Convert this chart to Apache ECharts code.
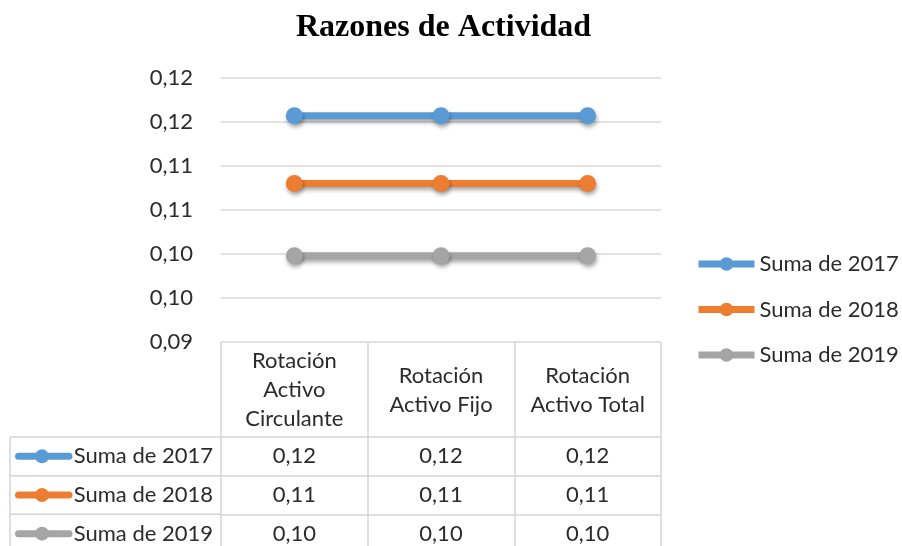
<!DOCTYPE html>
<html>
<head>
<meta charset="utf-8">
<script src="https://cdn.jsdelivr.net/npm/echarts@6/dist/echarts.min.js"></script>
<style>
  html, body { margin: 0; padding: 0; background: #ffffff; }
  #chart { width: 902px; height: 546px; }
</style>
</head>
<body>
<div id="chart"></div>
<script>
// Activity ratios per year
const categories = ['Rotación Activo Circulante', 'Rotación Activo Fijo', 'Rotación Activo Total'];
const headerLines = ['Rotación\nActivo\nCirculante', 'Rotación\nActivo Fijo', 'Rotación\nActivo Total'];
const seriesNames = ['Suma de 2017', 'Suma de 2018', 'Suma de 2019'];
const values2017 = [0.1157, 0.1157, 0.1157];
const values2018 = [0.1080, 0.1080, 0.1080];
const values2019 = [0.0998, 0.0998, 0.0998];
const yTickLabels = ['0,09', '0,10', '0,10', '0,11', '0,11', '0,12', '0,12'];
const colors = ['#5B9BD5', '#ED7D31', '#A5A5A5'];

const seriesValues = [values2017, values2018, values2019];
const Y_MIN = 0.09, Y_MAX = 0.12, Y_STEP = 0.005;
const FONT = 'Lato';
const TEXT = '#2b2b2b';
const GRID_LINE = '#d9d9d9';
const TABLE_LINE = '#d4d4d4';

const fmt = v => v.toFixed(2).replace('.', ',');

const chart = echarts.init(document.getElementById('chart'));

// one cell per (category, series) for the data table
const cellData = [];
seriesValues.forEach((vals, r) => vals.forEach((v, c) => cellData.push([c, r, v])));

const lineSeries = seriesNames.map((name, i) => ({
  name: name,
  type: 'line',
  xAxisIndex: 0,
  yAxisIndex: 0,
  data: seriesValues[i],
  symbol: 'circle',
  symbolSize: 17,
  z: 10 - i,
  lineStyle: {
    width: 7, color: colors[i],
    shadowColor: 'rgba(0,0,0,0.35)', shadowBlur: 4, shadowOffsetX: 1, shadowOffsetY: 3
  },
  itemStyle: {
    color: colors[i],
    shadowColor: 'rgba(0,0,0,0.35)', shadowBlur: 4, shadowOffsetX: 1, shadowOffsetY: 3
  }
}));

const option = {
  animation: false,
  color: colors,
  title: {
    text: 'Razones de Actividad',
    left: 296,
    top: 12,
    padding: 0,
    textStyle: { fontFamily: 'Liberation Serif', fontWeight: 'bold', fontSize: 32, color: '#000000' }
  },
  legend: {
    data: seriesNames,
    orient: 'vertical',
    left: 695,
    top: 253,
    padding: 0,
    itemWidth: 56,
    itemHeight: 17,
    itemGap: 23.5,
    lineStyle: { width: 7 },
    textStyle: { fontFamily: FONT, fontSize: 22, color: TEXT }
  },
  grid: [
    { left: 221, top: 78, width: 440, height: 264, outerBoundsMode: 'none' },   // plot area
    { left: 221, top: 342, width: 440, height: 211, outerBoundsMode: 'none' },  // table columns
    { left: 221, top: 437, width: 440, height: 116, outerBoundsMode: 'none' }   // table rows
  ],
  xAxis: [
    {
      type: 'category', gridIndex: 0, data: categories,
      axisLine: { show: false }, axisTick: { show: false },
      axisLabel: {
        interval: 0,
        formatter: (v, i) => headerLines[i],
        verticalAlign: 'middle', margin: 48,
        fontFamily: FONT, fontSize: 22, lineHeight: 29, color: TEXT
      }
    },
    {
      type: 'category', gridIndex: 1, data: categories,
      axisLine: { show: false }, axisTick: { show: false }, axisLabel: { show: false },
      splitLine: { show: true, interval: 0, lineStyle: { color: TABLE_LINE, width: 1.5 } }
    },
    {
      type: 'category', gridIndex: 2, data: categories,
      axisLine: { show: false }, axisTick: { show: false }, axisLabel: { show: false },
      splitLine: { show: false }
    }
  ],
  yAxis: [
    {
      type: 'value', gridIndex: 0, min: Y_MIN, max: Y_MAX, interval: Y_STEP,
      axisLine: { show: false }, axisTick: { show: false },
      axisLabel: {
        formatter: v => yTickLabels[Math.round((v - Y_MIN) / Y_STEP)],
        margin: 28, fontFamily: FONT, fontSize: 22, color: TEXT
      },
      splitLine: { lineStyle: { color: GRID_LINE, width: 1.5 } }
    },
    {
      type: 'value', gridIndex: 1, min: 0, max: 1, show: false
    },
    {
      type: 'category', gridIndex: 2, data: seriesNames, inverse: true,
      axisLine: { show: false }, axisTick: { show: false },
      axisLabel: { interval: 0, margin: 8, fontFamily: FONT, fontSize: 22, color: TEXT },
      splitLine: { show: true, interval: 0, lineStyle: { color: TABLE_LINE, width: 1.5 } }
    }
  ],
  series: lineSeries.concat([{
    type: 'scatter',
    xAxisIndex: 2,
    yAxisIndex: 2,
    data: cellData,
    symbolSize: 1,
    itemStyle: { color: '#ffffff', opacity: 1 },
    label: {
      show: true, position: 'inside',
      formatter: p => fmt(p.value[2]),
      fontFamily: FONT, fontSize: 22, color: TEXT,
      textBorderWidth: 0, opacity: 1
    },
    labelLayout: { hideOverlap: false },
    silent: true
  }])
};

chart.setOption(option);

// row-header keys and the left part of the table frame
const rowCenters = seriesNames.map(n => chart.convertToPixel({ yAxisIndex: 2 }, n));
const rowH = rowCenters[1] - rowCenters[0];
const tableLeft = 10;
const colStep = chart.convertToPixel({ xAxisIndex: 2 }, categories[1]) - chart.convertToPixel({ xAxisIndex: 2 }, categories[0]);
const tableInnerLeft = chart.convertToPixel({ xAxisIndex: 2 }, categories[0]) - colStep / 2;
const graphics = [];
for (let i = 0; i <= seriesNames.length; i++) {
  const y = rowCenters[0] - rowH / 2 + i * rowH;
  graphics.push({
    type: 'line', silent: true,
    shape: { x1: tableLeft, y1: y, x2: tableInnerLeft, y2: y },
    style: { stroke: TABLE_LINE, lineWidth: 1.5 }
  });
}
graphics.push({
  type: 'line', silent: true,
  shape: { x1: tableLeft, y1: rowCenters[0] - rowH / 2, x2: tableLeft, y2: rowCenters[0] - rowH / 2 + seriesNames.length * rowH },
  style: { stroke: TABLE_LINE, lineWidth: 1.5 }
});
seriesNames.forEach((n, i) => {
  const y = rowCenters[i];
  graphics.push({
    type: 'line', silent: true,
    shape: { x1: 18.5, y1: y, x2: 69, y2: y },
    style: { stroke: colors[i], lineWidth: 7, lineCap: 'round' }
  });
  graphics.push({
    type: 'circle', silent: true,
    shape: { cx: 42, cy: y, r: 7 },
    style: { fill: colors[i] }
  });
});
chart.setOption({ graphic: graphics });
</script>
</body>
</html>
